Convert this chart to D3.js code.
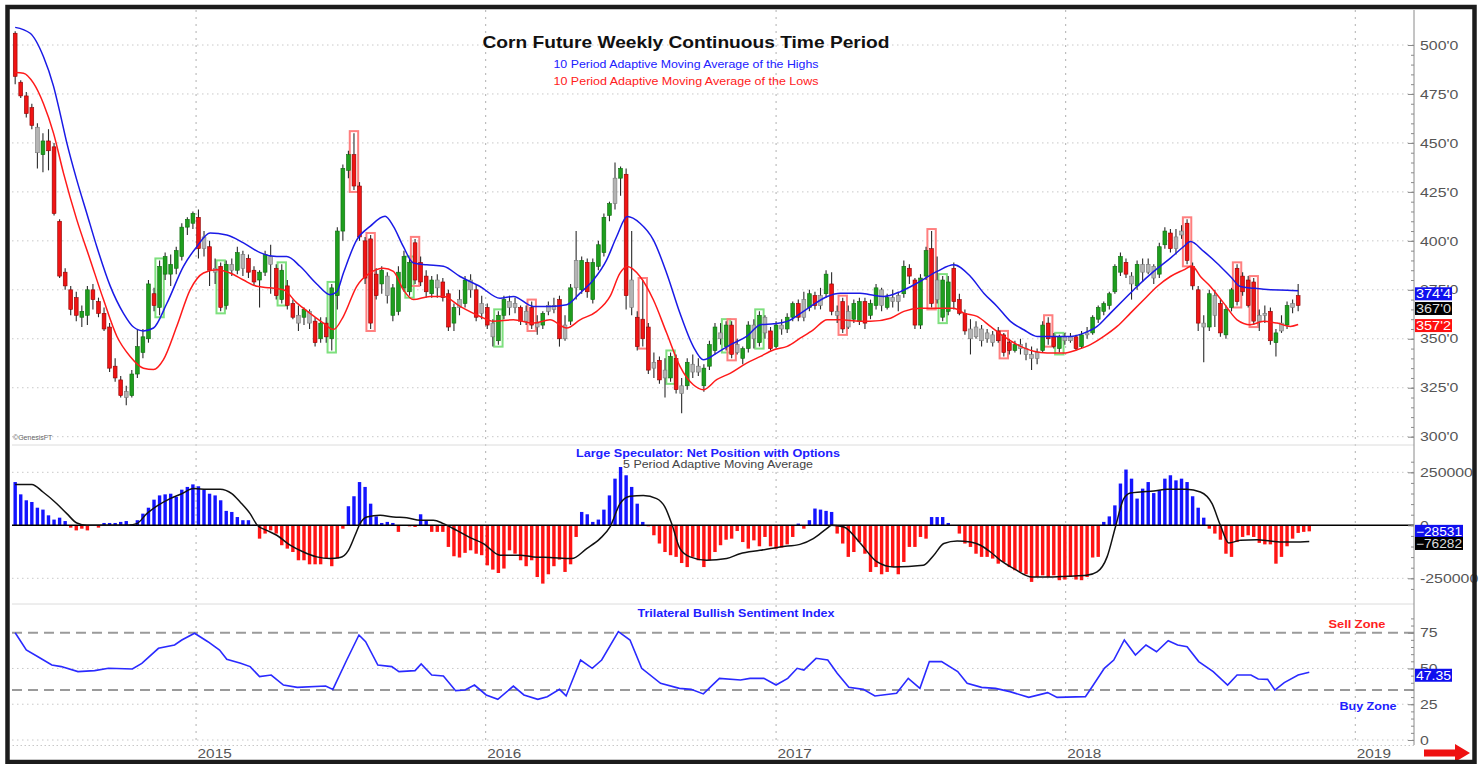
<!DOCTYPE html>
<html>
<head>
<meta charset="utf-8">
<title>Corn Future Weekly Continuous Time Period</title>
<script src="https://d3js.org/d3.v7.min.js"></script>
<style>
  html, body { margin: 0; padding: 0; background: #fff; }
  svg { display: block; font-family: "Liberation Sans", Arial, sans-serif; }
  .axis line { stroke: #8a8a8a; }
  .axis text { fill: #555; font-size: 13px; }
</style>
</head>
<body>
<div id="chart"></div>
<script>
// ---- data ----
const firstWeek = Date.UTC(2014, 4, 18);

// weekly [open, high, low, close], cents/bu
const candles = [
  [506,507,480,484],[481,482,473,474],[474,476,463,465],[468,470,457,459],[458,460,437,445],[444,455,435,451],[451,457,436,446],[448,450,413,414],[410,411,381,382],[384,386,375,377],
  [375,377,362,365],[371,374,359,362],[361,367,356,364],[362,377,357,375],[375,378,365,370],[369,371,361,363],[363,366,354,355],[356,358,333,335],[336,340,328,330],[329,331,320,321],
  [323,326,316,320],[321,334,320,332],[332,355,330,346],[343,355,340,351],[350,380,348,378],[373,376,364,367],[366,390,362,387],[383,394,380,392],[383,393,377,388],[386,397,383,395],
  [392,409,390,407],[407,412,403,411],[409,415,406,414],[412,416,391,396],[396,405,392,402],[397,400,377,385],[386,391,378,384],[387,389,364,366],[367,390,365,388],[388,391,382,385],
  [385,397,383,394],[393,395,382,386],[391,393,381,384],[385,387,377,379],[380,385,366,384],[384,395,382,393],[392,398,373,388],[386,388,370,372],[370,388,368,385],[377,380,365,367],
  [368,370,360,361],[362,367,354,358],[361,366,357,365],[364,365,355,358],[359,361,346,348],[350,361,348,358],[358,361,348,351],[350,378,344,376],[372,407,365,405],[405,439,400,437],
  [436,446,432,444],[444,455,426,428],[428,430,400,402],[400,402,378,381],[401,403,355,358],[383,386,370,372],[378,387,373,385],[382,384,368,372],[362,378,359,376],[364,387,362,384],
  [376,395,374,392],[374,391,372,389],[399,401,378,380],[389,392,377,379],[382,385,371,374],[373,382,371,380],[380,383,371,376],[379,381,369,371],[373,375,354,356],[358,368,354,366],
  [366,375,362,370],[368,382,366,380],[380,383,371,375],[375,378,359,361],[363,372,360,368],[366,368,355,357],[358,360,346,351],[349,364,347,362],[362,372,360,370],[369,372,362,366],
  [366,371,363,368],[366,367,357,359],[359,367,357,364],[366,369,355,357],[358,362,352,356],[357,364,355,363],[364,369,362,367],[367,371,363,365],[370,372,346,350],[350,362,349,357],
  [359,378,357,376],[376,405,370,390],[375,392,373,390],[389,391,371,374],[370,391,368,389],[387,400,385,398],[394,414,392,412],[413,420,410,419],[419,440,416,432],[432,438,423,437],
  [434,437,365,372],[380,405,362,366],[361,364,344,346],[360,380,346,350],[356,358,332,334],[335,343,330,338],[339,341,327,329],[330,340,320,334],[330,343,328,341],[340,342,322,324],
  [326,330,312,322],[326,340,324,338],[337,342,330,333],[333,340,331,336],[326,337,323,335],[336,349,334,347],[344,358,342,356],[353,358,347,350],[346,359,344,357],[357,359,340,342],
  [343,350,342,347],[340,346,337,345],[345,359,343,357],[357,360,345,350],[348,364,346,362],[361,362,350,353],[354,356,344,345],[346,359,345,357],[357,360,352,355],[355,363,353,361],
  [361,369,359,368],[368,370,359,361],[361,374,359,370],[366,375,364,373],[372,374,365,367],[367,376,365,372],[373,385,371,383],[378,384,362,364],[364,367,358,362],[369,371,353,355],
  [356,367,355,364],[360,370,358,368],[359,371,357,369],[369,371,355,358],[362,370,360,368],[367,378,365,376],[375,376,364,367],[366,373,365,371],[371,375,366,369],[369,374,364,372],
  [373,390,371,387],[386,388,378,382],[380,381,355,357],[357,383,355,381],[382,397,380,395],[396,405,366,368],[370,392,368,380],[361,382,359,380],[364,382,362,379],[386,389,365,369],
  [370,373,362,363],[363,365,352,354],[355,360,342,350],[351,359,350,356],[355,357,346,349],[350,355,348,353],[352,354,346,348],[354,356,348,349],[352,353,341,343],[348,350,342,344],
  [344,349,343,347],[347,350,342,345],[345,348,339,342],[342,346,334,340],[340,345,337,343],[344,359,343,357],[358,361,347,350],[351,353,345,346],[345,352,343,351],[351,353,347,349],
  [349,353,348,351],[351,352,344,345],[346,354,345,352],[352,356,350,353],[353,362,352,361],[360,367,358,366],[364,369,362,368],[367,374,365,373],[374,388,373,387],[384,394,382,392],
  [389,391,381,383],[382,384,370,378],[377,390,375,388],[388,391,379,384],[384,391,383,388],[387,388,378,381],[383,399,381,397],[398,407,396,405],[404,406,394,396],[396,406,393,402],
  [403,408,401,405],[409,411,388,390],[387,389,375,377],[375,377,354,358],[358,362,338,356],[356,375,354,373],[372,375,356,362],[368,370,351,353],[352,367,350,365],[366,376,364,375],
  [386,388,367,369],[382,384,372,374],[380,382,366,367],[379,381,357,359],[359,365,354,362],[362,367,358,363],[364,366,347,349],[348,355,341,353],[354,362,353,358],[357,369,355,367],
  [366,370,363,368],[372,378,364,367]
];

// weeks drawn as grey (neutral) bars
const neutralWeeks = [4,20,34,36,39,41,46,51,53,67,76,80,82,84,86,89,90,92,94,96,97,99,101,108,111,115,117,120,122,123,127,130,133,135,138,142,145,148,150,156,158,159,166,172,173,174,175,176,181,182,183,184,189,190,193,201,203,204,205,209,210,214,216,224,225,228,230];
// highlighted (boxed) bars
const boxedUp = [26,37,48,57,71,87,118,128,134,167,188];
const boxedDown = [61,64,72,93,113,129,149,165,178,186,211,220,223];

// 10 period adaptive moving averages, [week, value]
const amaHighs = [
  [0,509],[2.7,506],[5.1,494],[6.9,479],[8.1,465],[9.3,450],[11.1,431],[12.9,414],[14.7,397],[17.1,377],[19.5,363],[21.3,356],[23.1,354],[24.9,355.5],
  [27.3,368],[30.3,387],[32.7,397],[35.1,404],[38.1,403],[41.1,399],[44.1,394],[47.1,392],[48.9,392],[51.3,387],[54.3,378],[56.7,372.5],[57.9,374],
  [59.1,383.6],[61.5,400.5],[63.9,407.4],[66.6,412.5],[68.1,407.4],[69.9,397],[71.7,388.7],[74.1,387.8],[77.1,387],[80.1,381.8],[83.7,376.7],[87.3,370.7],
  [89.7,371.6],[93.3,366.5],[96.3,366.5],[99.3,367.4],[101.7,373.3],[104.1,380],[106.5,390.3],[108.3,402.2],[110.2,412.4],[112.5,409],[114.9,400.5],
  [117.3,383.5],[119.7,363],[122.1,346],[123.9,339.3],[126.3,342.7],[128.8,347],[131.7,351.2],[134.2,357.2],[136.6,357.7],[139,358.9],[141.4,363],
  [143.7,367.4],[146.2,371.6],[148.6,373.3],[152.1,373.3],[154,372.5],[156.4,371.6],[159.4,374.1],[162.4,378.4],[166,384.4],[169,387.8],[172,381.8],
  [174.4,373.3],[176.8,366.5],[179.2,358.9],[181.6,354.6],[184,351.2],[187,351.2],[190,351.2],[192.4,352.9],[194.8,356.3],[197.2,363.1],[199.6,369.9],
  [202,376.7],[205,384.4],[208,391.2],[210.4,397.1],[211.6,399.7],[214,394.6],[216.4,388.6],[218.8,381.8],[220.6,376.7],[223,375.8],[226,375],[229,374.8],[231,374.5]
];
const amaLows = [
  [0,486],[1.5,485.6],[3.3,480.5],[5.1,470],[6.9,455],[8.7,434.6],[11.1,410.7],[13.5,390.4],[15.9,370],[18.3,351.3],[20.7,341],[23.1,335],[24.9,334.3],
  [26.7,339.4],[29.1,356.4],[31.5,375],[33.9,383.6],[36.3,385.3],[38.7,383.6],[41.1,380],[43.5,376.8],[45.9,376],[48.3,375],[50.7,368.3],[53.1,363],
  [55.5,358],[57.3,354.7],[59.1,361.5],[61.5,376.8],[63.9,383.6],[66.3,386],[68.1,384.4],[69.9,375],[71.7,370],[74.7,371.6],[77.1,371.6],[80.1,366.5],
  [83.7,361.4],[86.1,358.9],[89.7,359.7],[93.3,358],[96.3,359.7],[99.3,355.5],[101.7,359.7],[104.7,364],[107.1,371.6],[108.9,383.5],[110.2,386.9],
  [112.5,381.8],[114.9,369.9],[117.3,352.9],[119.7,335.9],[122.1,326.5],[123.9,324],[126.3,329.1],[128.8,332.5],[131.7,337.6],[134.2,341],[136.6,344.4],
  [139,346.1],[141.4,350.4],[143.7,354.6],[146.2,359.7],[148.6,359.7],[152.1,358.9],[154,358.9],[157.6,360.5],[160,364],[163,365.6],[166,365.6],[169,365.6],
  [170.8,363.1],[173.2,361.4],[175.6,356.3],[178,351.2],[180.4,347],[183.4,343.6],[185.8,342.7],[188.8,342.7],[191.2,344.4],[193.6,347],[196,351.2],
  [198.4,356.3],[200.8,363.1],[203.2,369.9],[205.6,376.7],[208,381.8],[210.4,385.2],[211.9,387.2],[213.4,381.8],[215.2,376.7],[217.6,368.2],[220,359.7],
  [222.4,357.2],[224.8,358.9],[227.2,358],[229.6,356.3],[231,357.25]
];

// large speculator net position with options, contracts, one per week
const cotNet = [
  204000,146000,118000,110000,83000,74000,47000,27000,36000,20000,
  -11000,-24000,-16000,-24000,-3000,-11000,11000,11000,11000,16000,
  20000,5000,24000,55000,83000,121000,141000,146000,149000,134000,
  168000,181000,193000,184000,168000,149000,141000,118000,68000,63000,
  39000,24000,24000,2000,-63000,-39000,-24000,-39000,-94000,-110000,
  -126000,-165000,-165000,-184000,-184000,-184000,-157000,-193000,-157000,-16000,
  90000,137000,204000,181000,102000,42000,11000,16000,11000,-31000,
  -2000,-5000,-8000,52000,24000,-31000,-31000,-31000,-102000,-146000,
  -152000,-130000,-118000,-134000,-141000,-189000,-209000,-225000,-204000,-118000,
  -134000,-165000,-193000,-165000,-244000,-275000,-231000,-193000,-162000,-220000,
  -184000,-55000,63000,52000,16000,27000,74000,141000,220000,275000,
  236000,181000,102000,16000,-5000,-47000,-86000,-126000,-141000,-149000,
  -178000,-197000,-149000,-165000,-197000,-165000,-126000,-94000,-68000,-63000,
  -27000,-79000,-110000,-71000,-99000,-55000,-99000,-110000,-105000,-90000,
  -55000,8000,-16000,24000,79000,74000,68000,63000,-39000,-86000,
  -149000,-126000,-79000,-134000,-220000,-197000,-231000,-220000,-197000,-231000,
  -173000,-102000,-102000,-55000,-63000,39000,39000,39000,11000,-3000,
  -39000,-86000,-102000,-134000,-149000,-149000,-157000,-181000,-173000,-197000,
  -212000,-220000,-231000,-267000,-244000,-236000,-244000,-236000,-259000,-256000,
  -244000,-256000,-259000,-244000,-152000,-149000,16000,42000,94000,197000,
  263000,220000,126000,173000,204000,152000,165000,220000,236000,212000,
  220000,204000,137000,83000,36000,-16000,-39000,-68000,-134000,-149000,
  -79000,-55000,-47000,-55000,-83000,-90000,-90000,-181000,-149000,-99000,
  -63000,-36000,-31000,-28531
];
// 5 period adaptive moving average of the net position, [week, value]
const cotAma = [
  [0,193000],[3,193000],[5,157000],[7.5,102000],[9.3,55000],[11.1,11000],[12.9,0],[15.3,0],[20.1,0],[21.9,8000],[23.7,55000],[25.7,94000],
  [27.9,126000],[30,149000],[32.1,173000],[34.5,170000],[36.9,170000],[39,149000],[40.5,110000],[42.3,55000],[43.6,0],[45.3,-24000],[47.1,-47000],
  [49.5,-94000],[51.9,-126000],[54.3,-149000],[56.7,-157000],[58.5,-152000],[60,-118000],[61.2,-47000],[62.1,8000],[63.3,39000],[65.7,47000],
  [68.1,39000],[70.5,36000],[72.9,24000],[75.3,24000],[77.1,8000],[79.5,-24000],[81.9,-58000],[84.3,-86000],[87.3,-141000],[90.9,-141000],
  [93.3,-149000],[96.3,-152000],[100.2,-157000],[102.9,-110000],[105.3,-63000],[107.1,-8000],[108.9,102000],[110.7,137000],[113.1,141000],
  [115.5,126000],[117,86000],[118.3,0],[119.7,-110000],[121.5,-149000],[124.5,-165000],[128.1,-157000],[130.5,-134000],[134.1,-118000],
  [137.7,-102000],[141.3,-90000],[143.7,-63000],[146.1,-16000],[147,0],[149.2,-8000],[152.2,-86000],[155.2,-173000],[158.2,-197000],
  [163.5,-189000],[165.4,-141000],[167.2,-86000],[169.6,-74000],[172,-79000],[173.8,-94000],[175.6,-126000],[177.4,-165000],[179.8,-204000],
  [183.1,-244000],[186.4,-244000],[189.4,-240000],[192.9,-236000],[194.8,-220000],[196.6,-149000],[198.1,-8000],[199.6,126000],[200.8,152000],
  [202.6,157000],[205,162000],[207.4,170000],[210.9,170000],[213.4,157000],[215.5,102000],[217,0],[218.5,-83000],[220.6,-71000],[223.6,-68000],
  [226,-74000],[228.4,-79000],[230.2,-79000],[233,-76282]
];

// trilateral bullish sentiment index, [week, value]
const sentiment = [
  [0,75],[2,62.9],[4.1,58.2],[6.6,52.4],[8.3,51.3],[11.3,47.8],[14.3,48.5],[16.8,50.1],[21.1,49.6],[22.8,53.6],[25.8,64.1],[28.7,66.4],[30,69.9],
  [32.3,74.6],[34.7,68.7],[36.8,62.9],[38.1,56.4],[40.6,53.6],[42.3,51.3],[44,44.3],[46.1,45.4],[48.3,38.4],[50.8,36.8],[55.9,37.7],[57.2,35.4],
  [59.7,55.9],[61.9,73.4],[63.1,68.7],[65.3,52.4],[67.8,51.3],[69.1,47.8],[72,48.5],[73.1,53.1],[75,45.4],[77.1,44.7],[79.3,34.5],[81,34.9],
  [82.7,38.4],[84.8,31.5],[86.9,28.4],[89.7,37.7],[91.6,31.5],[94.1,28.4],[95.8,30.3],[98,35.4],[99.2,30.8],[101.8,55.9],[103.9,50.1],[105.6,55.9],
  [108.6,75.7],[110.7,69.9],[112.8,50.1],[116.2,39.6],[119.6,36.1],[121.7,35.4],[123.9,32.2],[126.8,43.1],[130.6,41.9],[132.3,43.1],[134.8,43.1],
  [137,38.4],[139.1,43.1],[140.8,50.1],[142,48.9],[144.2,57.1],[146.3,55.9],[148,46.6],[150.1,36.8],[152.7,35.4],[154.8,30.8],[158.7,32.6],
  [160.8,43.1],[162.9,36.1],[164.6,54.8],[166.8,54.8],[169.7,47.8],[171.4,39.6],[174,36.8],[176.5,36.1],[179.1,33.8],[182.5,29.8],[185.9,33.1],
  [187.6,29.8],[192.7,30.3],[194,37.7],[196.1,50.1],[197.8,55.9],[199.7,69.9],[201.7,59.4],[203.6,66.4],[205.5,61.7],[207.6,69.4],[209.3,66.4],
  [211,65.2],[213.1,54.8],[215.7,47.8],[218.3,38.4],[220,45.4],[222.5,45.4],[223.8,42.6],[225.5,42.4],[226.8,34.9],[228.5,40.1],[231,45.4],[233,47.35]
];
const sellZone = 75;
const buyZone = 35;

const priceTicks = [300, 325, 350, 375, 400, 425, 450, 475, 500];
const cotTicks = [-250000, 0, 250000];
const sentTicks = [0, 25, 50, 75];
const yearTicks = [2015, 2016, 2017, 2018, 2019];

// ---- layout ----
const W = 1481, H = 764;
const plot = { left: 12, right: 1414, top: 10, bottom: 745 };

const svg = d3.select("#chart").append("svg").attr("width", W).attr("height", H);
svg.append("rect").attr("width", W).attr("height", H).attr("fill", "#fff");

const DAY = 864e5;
const weekDate = (i) => new Date(firstWeek + i * 7 * DAY);

const x = d3.scaleUtc()
  .domain([new Date(Date.UTC(2014, 4, 14)), new Date(Date.UTC(2019, 2, 16))])
  .range([plot.left, plot.right]);
const yPrice = d3.scaleLinear().domain([300, 500]).range([436.7, 45]);
const yCot = d3.scaleLinear().domain([-250000, 250000]).range([578.3, 472.3]);
const ySent = d3.scaleLinear().domain([0, 75]).range([740, 632.7]);

const fmtPrice = (p) => `${Math.floor(p)}'${Math.round((p - Math.floor(p)) * 8)}`;

// the source picture is a bit wide, so text is stretched sideways
function widen(sel, k) {
  sel.each(function () {
    const w = this.getComputedTextLength();
    if (w > 0) d3.select(this).attr("textLength", w * k).attr("lengthAdjust", "spacingAndGlyphs");
  });
}
function label(xPos, yPos, txt, size, color, width, bold) {
  return svg.append("text")
    .attr("x", xPos).attr("y", yPos).attr("text-anchor", "middle")
    .style("font-size", `${size}px`).style("font-weight", bold ? "bold" : "normal")
    .attr("fill", color)
    .attr("textLength", width).attr("lengthAdjust", "spacingAndGlyphs")
    .text(txt);
}

// ---- grid ----
const grid = svg.append("g");
const hGrid = (vals, scale) =>
  grid.append("g").selectAll("line").data(vals).join("line")
    .attr("x1", plot.left).attr("x2", plot.right)
    .attr("y1", (d) => scale(d)).attr("y2", (d) => scale(d))
    .attr("stroke", "#c8c8c8").attr("stroke-dasharray", "1.5,3.5");
hGrid(priceTicks, yPrice);
hGrid([-250000, 250000], yCot);
hGrid([0, 25, 50], ySent);

grid.append("g").selectAll("line").data(yearTicks).join("line")
  .attr("x1", (d) => x(new Date(Date.UTC(d, 0, 1))))
  .attr("x2", (d) => x(new Date(Date.UTC(d, 0, 1))))
  .attr("y1", plot.top).attr("y2", plot.bottom)
  .attr("stroke", "#b0b0b0").attr("stroke-dasharray", "2,5");

// panel separators
grid.selectAll("line.sep").data([445, 604]).join("line")
  .attr("class", "sep")
  .attr("x1", plot.left).attr("x2", plot.right)
  .attr("y1", (d) => d).attr("y2", (d) => d)
  .attr("stroke", "#dcdcdc");

// ---- price panel ----
const candleRows = candles.map(([o, h, l, c], i) => ({
  i, date: weekDate(i), o, h, l, c,
  tone: neutralWeeks.includes(i) ? "n" : c >= o ? "g" : "r",
}));
const toneFill = { g: "#1e9e1e", r: "#f01414", n: "#b4b4b4" };
const toneEdge = { g: "#0d6b0d", r: "#8c0000", n: "#7a7a7a" };
const bodyW = 3.8;

const boxes = candleRows.filter((d) => boxedUp.includes(d.i) || boxedDown.includes(d.i));
svg.append("g").selectAll("rect").data(boxes).join("rect")
  .attr("x", (d) => x(d.date) - 4.2)
  .attr("width", 8.4)
  .attr("y", (d) => yPrice(d.h) - 2)
  .attr("height", (d) => yPrice(d.l) - yPrice(d.h) + 4)
  .attr("fill", "none")
  .attr("stroke", (d) => (boxedUp.includes(d.i) ? "#7fe07f" : "#ff7f7f"))
  .attr("stroke-width", 2);

const candleG = svg.append("g");
candleG.selectAll("line").data(candleRows).join("line")
  .attr("x1", (d) => x(d.date)).attr("x2", (d) => x(d.date))
  .attr("y1", (d) => yPrice(d.h)).attr("y2", (d) => yPrice(d.l))
  .attr("stroke", "#2b2b2b").attr("stroke-width", 1.1);
candleG.selectAll("rect").data(candleRows).join("rect")
  .attr("x", (d) => x(d.date) - bodyW / 2)
  .attr("width", bodyW)
  .attr("y", (d) => yPrice(Math.max(d.o, d.c)))
  .attr("height", (d) => Math.max(1.5, yPrice(Math.min(d.o, d.c)) - yPrice(Math.max(d.o, d.c))))
  .attr("fill", (d) => toneFill[d.tone])
  .attr("stroke", (d) => toneEdge[d.tone])
  .attr("stroke-width", 0.6);

const priceLine = d3.line()
  .x((d) => x(weekDate(d[0])))
  .y((d) => yPrice(d[1]))
  .curve(d3.curveMonotoneX);
svg.append("path").datum(amaLows).attr("d", priceLine)
  .attr("fill", "none").attr("stroke", "#ff1a1a").attr("stroke-width", 1.5);
svg.append("path").datum(amaHighs).attr("d", priceLine)
  .attr("fill", "none").attr("stroke", "#1a1ae6").attr("stroke-width", 1.5);

label(686, 48, "Corn Future Weekly Continuous Time Period", 16.5, "#111", 407, true);
label(686, 68, "10 Period Adaptive Moving Average of the Highs", 11, "#2020ff", 265);
label(686, 85, "10 Period Adaptive Moving Average of the Lows", 11, "#ff2020", 265);
svg.append("text").attr("x", 13).attr("y", 440)
  .style("font-size", "7px").attr("fill", "#666").text("©GenesisFT");

// ---- COT panel ----
const cotRows = cotNet.map((v, i) => ({ i, v, date: weekDate(i) }));
svg.append("g").selectAll("rect").data(cotRows).join("rect")
  .attr("x", (d) => x(d.date) - 1.7)
  .attr("width", 3.4)
  .attr("y", (d) => yCot(Math.max(0, d.v)))
  .attr("height", (d) => Math.abs(yCot(d.v) - yCot(0)))
  .attr("fill", (d) => (d.v >= 0 ? "#1414ff" : "#ff1414"));

svg.append("line")
  .attr("x1", plot.left).attr("x2", plot.right)
  .attr("y1", yCot(0)).attr("y2", yCot(0))
  .attr("stroke", "#000").attr("stroke-width", 1.6);

svg.append("path").datum(cotAma)
  .attr("d", d3.line().x((d) => x(weekDate(d[0]))).y((d) => yCot(d[1])).curve(d3.curveMonotoneX))
  .attr("fill", "none").attr("stroke", "#111").attr("stroke-width", 1.5);

label(708, 457, "Large Speculator: Net Position with Options", 10.5, "#2020ff", 264, true);
label(718, 468, "5 Period Adaptive Moving Average", 11, "#444", 190);

// ---- sentiment panel ----
svg.append("g").selectAll("line").data([sellZone, buyZone]).join("line")
  .attr("x1", plot.left).attr("x2", plot.right)
  .attr("y1", (d) => ySent(d)).attr("y2", (d) => ySent(d))
  .attr("stroke", "#9a9a9a").attr("stroke-width", 2).attr("stroke-dasharray", "10,6");

svg.append("path").datum(sentiment)
  .attr("d", d3.line().x((d) => x(weekDate(d[0]))).y((d) => ySent(d[1])))
  .attr("fill", "none").attr("stroke", "#2a2aff").attr("stroke-width", 1.6);

label(736, 617, "Trilateral Bullish Sentiment Index", 10.5, "#2020ff", 197, true);
label(1357, 628, "Sell Zone", 10.5, "#ff2020", 57, true);
label(1368, 710, "Buy Zone", 10.5, "#2020ff", 57, true);

// ---- right axes ----
svg.append("line")
  .attr("x1", plot.right).attr("x2", plot.right)
  .attr("y1", plot.top).attr("y2", plot.bottom)
  .attr("stroke", "#8a8a8a");

function rightAxis(scale, majors, minors, fmt) {
  svg.append("g").attr("class", "axis")
    .attr("transform", `translate(${plot.right},0)`)
    .call(d3.axisRight(scale).tickValues(minors).tickSize(-3).tickFormat(""))
    .call((g) => g.select(".domain").remove());
  svg.append("g").attr("class", "axis")
    .attr("transform", `translate(${plot.right},0)`)
    .call(d3.axisRight(scale).tickValues(majors).tickSize(-6).tickPadding(6).tickFormat(fmt))
    .call((g) => g.select(".domain").remove())
    .call((g) => g.selectAll("text").attr("font-family", null).attr("font-size", null))
    .call((g) => widen(g.selectAll("text"), 1.22));
}
rightAxis(yPrice, priceTicks, d3.range(300, 505, 5), (d) => `${d}'0`);
rightAxis(yCot, cotTicks, d3.range(-300000, 300001, 50000), (d) => `${d}`);
rightAxis(ySent, sentTicks, d3.range(0, 90, 5), (d) => `${d}`);

// bottom time labels
const xAxisG = svg.append("g").attr("class", "axis")
  .attr("transform", `translate(0,${plot.bottom})`)
  .call(d3.axisBottom(x)
    .tickValues(yearTicks.map((d) => new Date(Date.UTC(d, 0, 1))))
    .tickSize(0).tickPadding(4)
    .tickFormat(d3.utcFormat("%Y")));
xAxisG.select(".domain").attr("stroke", "#c8c8c8").attr("stroke-dasharray", "1.5,2.5");
xAxisG.selectAll("text").attr("font-family", null).attr("font-size", null)
  .attr("text-anchor", "start").attr("dx", 1);
widen(xAxisG.selectAll("text"), 1.18);

// ---- last value boxes ----
function valueBox(y, txt, fill, color, w) {
  const g = svg.append("g");
  g.append("rect").attr("x", plot.right + 1).attr("y", y - 6.5)
    .attr("width", w).attr("height", 13).attr("fill", fill);
  g.append("text").attr("x", plot.right + 2).attr("y", y).attr("dy", "0.36em")
    .style("font-size", "12px").attr("fill", color)
    .attr("textLength", w - 2).attr("lengthAdjust", "spacingAndGlyphs")
    .text(txt);
}
const lastHigh = amaHighs[amaHighs.length - 1][1];
const lastLow = amaLows[amaLows.length - 1][1];
const lastClose = candles[candles.length - 1][3];
valueBox(yPrice(lastHigh) + 3, fmtPrice(lastHigh), "#1010ee", "#fff", 37);
valueBox(yPrice(lastClose) + 3, fmtPrice(lastClose), "#000", "#ddd", 37);
valueBox(yPrice(lastLow) + 1, fmtPrice(lastLow), "#ff1010", "#fff", 37);

const lastCot = cotNet[cotNet.length - 1];
const lastCotAma = cotAma[cotAma.length - 1][1];
valueBox(yCot(lastCot), d3.format("d")(lastCot), "#1010ee", "#fff", 48);
valueBox(yCot(lastCotAma) + 2, d3.format("d")(lastCotAma), "#000", "#ddd", 48);

const lastSent = sentiment[sentiment.length - 1][1];
valueBox(ySent(lastSent) + 3, d3.format(".2f")(lastSent), "#1010ee", "#fff", 37);

// ---- frame and arrow ----
svg.append("path")
  .attr("d", "M1424,749.5 H1455 V744 L1470,753 L1455,762 V756.5 H1424 Z")
  .attr("fill", "#ee1111");
svg.append("rect")
  .attr("x", 7.5).attr("y", 7).attr("width", 1467).attr("height", 755)
  .attr("fill", "none").attr("stroke", "#1c1c1c").attr("stroke-width", 4.5);
</script>
</body>
</html>
